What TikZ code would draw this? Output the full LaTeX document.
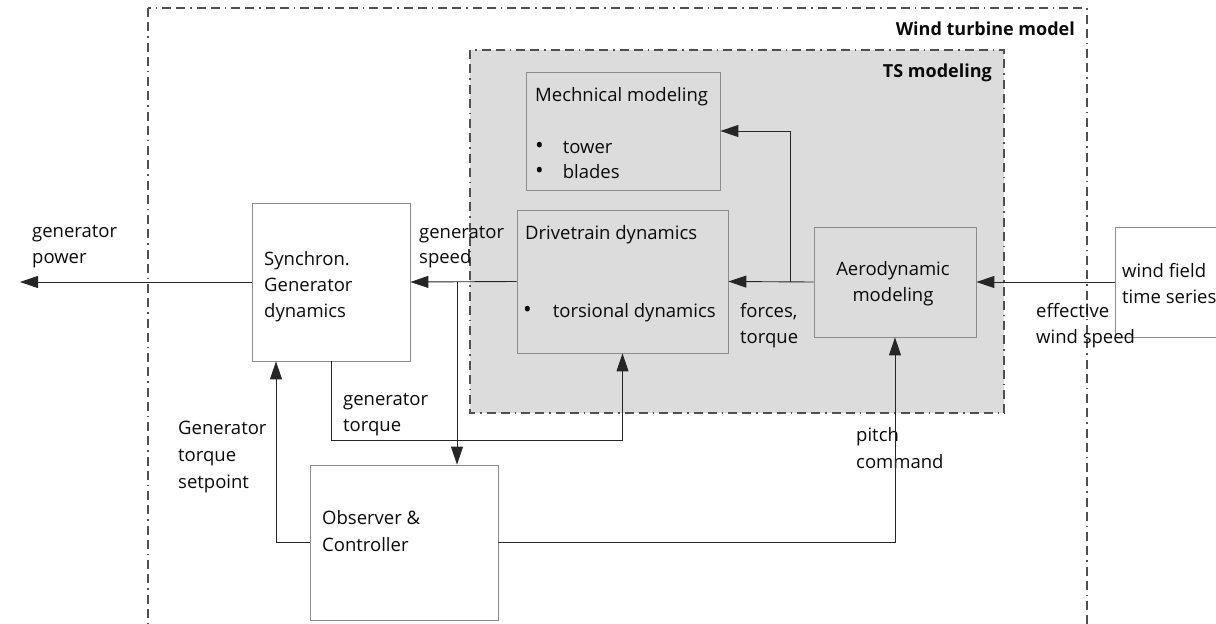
\documentclass[tikz,border=0pt]{standalone}
\usepackage{fontspec}
\setmainfont{Open Sans}
\usetikzlibrary{arrows.meta}
\definecolor{boxgray}{HTML}{8C8C8C}
\definecolor{tsfill}{HTML}{DCDCDC}
\definecolor{dashgray}{HTML}{505050}
\definecolor{txt}{HTML}{0A0A0A}
\newcommand{\bul}{{\fontsize{23}{26}\selectfont •}}
\begin{document}
\begin{tikzpicture}[x=1pt,y=-1pt,
  box/.style={draw=boxgray, line width=0.8pt, inner sep=0pt},
  conn/.style={draw=black!85, line width=0.9pt},
  arr/.style={-{Triangle[length=18pt,width=12pt]}},
  lbl/.style={text=txt, font=\fontsize{18.5}{26}\selectfont, align=left, inner sep=0pt, anchor=base west},
  ttl/.style={text=txt, font=\fontsize{18}{26}\selectfont\bfseries, inner sep=0pt, anchor=base east},
  outerdash/.style={draw=dashgray, line width=1.2pt, dash pattern=on 9pt off 5pt on 9pt off 5pt on 1.5pt off 5pt},
  tsdash/.style={draw=dashgray, fill=tsfill, line width=1.5pt, dash pattern=on 9pt off 5pt on 9pt off 5pt on 1.5pt off 5pt}
]
\useasboundingbox (0,0) rectangle (1216,624);
\clip (0,0) rectangle (1216,624);
\fill[white] (0,0) rectangle (1216,624);
% frames
\draw[outerdash] (148,8) rectangle (1087,640);
\node[ttl] (wtm) at (1075,35) {Wind turbine model};
\draw[tsdash] (470,50) rectangle (1004,413);
\node[ttl] (tsm) at (992,77) {TS modeling};
% boxes
\node[box, fill=tsfill, minimum width=194pt, minimum height=118pt] (mech) at (623,131) {};
\node[box, fill=tsfill, minimum width=211pt, minimum height=143pt] (drive) at (622.5,281.5) {};
\node[box, fill=tsfill, minimum width=162pt, minimum height=110pt] (aero) at (895,282) {};
\node[box, fill=white, minimum width=130pt, minimum height=110pt] (wind) at (1180,282) {};
\node[box, fill=white, minimum width=158pt, minimum height=158pt] (gen) at (331,282) {};
\node[box, fill=white, minimum width=188pt, minimum height=155pt] (obs) at (404,542.5) {};
% box texts
\node[lbl] (mechT) at (535,101) {Mechnical modeling};
\node[lbl, font=\fontsize{18.5}{25}\selectfont] (mechB) at (535,178) {\bul\hspace{19pt}tower\\\bul\hspace{19pt}blades};
\node[lbl] (driveT) at (525,239) {Drivetrain dynamics};
\node[lbl] (driveB) at (523,317) {\bul\hspace{21pt}torsional dynamics};
\node[text=txt, font=\fontsize{18.5}{26}\selectfont, align=center, inner sep=0pt] (aeroT) at (893,284) {Aerodynamic\\modeling};
\node[lbl, font=\fontsize{18.5}{25.5}\selectfont] (windT) at (1122,303) {wind field\\time series};
\node[lbl] (genT) at (264,317) {Synchron.\\Generator\\dynamics};
\node[lbl, font=\fontsize{18.5}{27}\selectfont] (obsT) at (322,551) {Observer \&\\Controller};
% connector labels
\node[lbl] (lpow) at (32,263) {generator\\power};
\node[lbl, font=\fontsize{18.5}{25}\selectfont] (lspd) at (419,263) {generator\\speed};
\node[lbl] (lfor) at (740,343) {forces,\\torque};
\node[lbl] (lwsp) at (1036,343) {effective\\wind speed};
\node[lbl] (ltrq) at (343,431) {generator\\torque};
\node[lbl, font=\fontsize{18.5}{27}\selectfont] (lset) at (178,488) {Generator\\torque\\setpoint};
\node[lbl, font=\fontsize{18.5}{27}\selectfont] (lpit) at (856,468) {pitch\\command};
% connectors
\coordinate (pw) at (20,282);
\coordinate (b1) at (790,282);
\coordinate (b2) at (457,282);
\draw[conn,arr] (wind.west) -- (aero.east);
\draw[conn,arr] (aero.west) -- (drive.east);
\draw[conn,arr] (b1) |- (mech.east);
\draw[conn,arr] (drive.west) -- (gen.east);
\draw[conn,arr] (b2) -- (b2 |- obs.north);
\draw[conn,arr] (gen.west) -- (pw);
\draw[conn,arr] (gen.south) -- ++(0,79) -| (drive.south);
\draw[conn,arr] (obs.west) -| ([xshift=-55pt]gen.south);
\draw[conn,arr] (obs.east) -| (aero.south);
\end{tikzpicture}
\end{document}
